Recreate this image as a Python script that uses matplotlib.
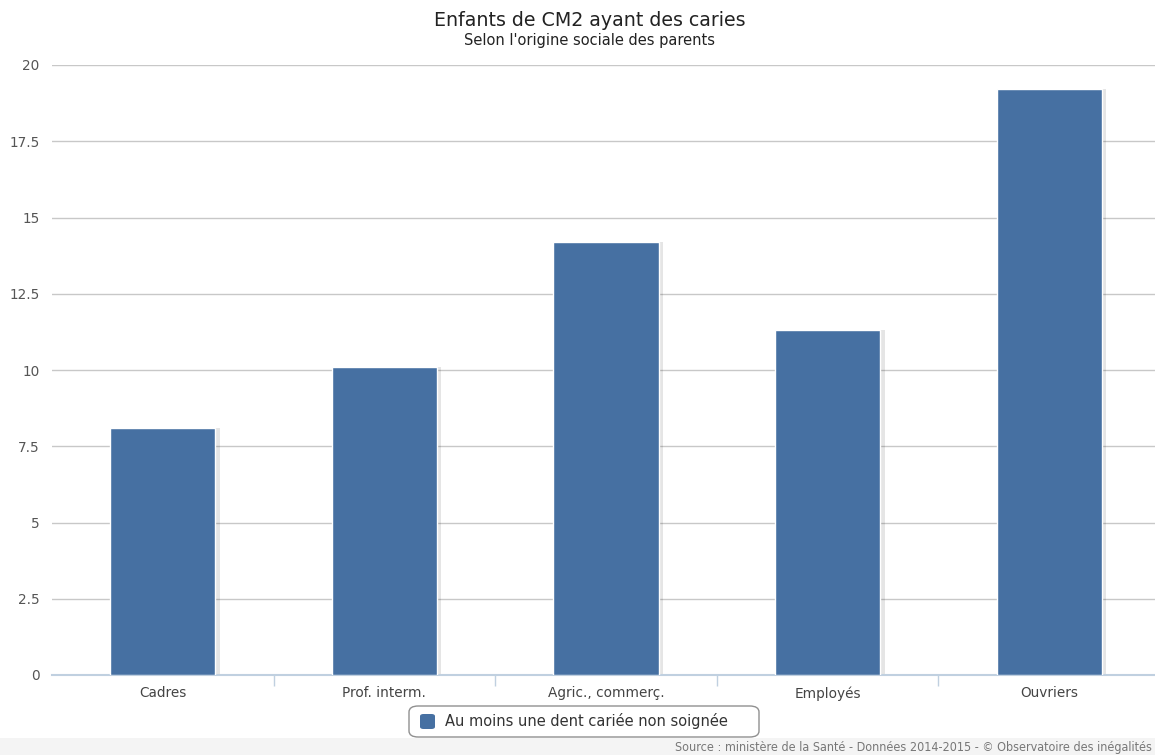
import matplotlib.pyplot as plt
from matplotlib.patches import FancyBboxPatch, Rectangle
import numpy as np

categories = ["Cadres", "Prof. interm.", "Agric., commerç.", "Employés", "Ouvriers"]
values = [8.1, 10.1, 14.2, 11.3, 19.2]
yticks = [0, 2.5, 5, 7.5, 10, 12.5, 15, 17.5, 20]
ytick_labels = ["0", "2.5", "5", "7.5", "10", "12.5", "15", "17.5", "20"]
series_name = "Au moins une dent cariée non soignée"
title = "Enfants de CM2 ayant des caries"
subtitle = "Selon l'origine sociale des parents"
source = "Source : ministère de la Santé - Données 2014-2015 - © Observatoire des inégalités"

bar_color = "#4670A2"
W, H = 1155, 755

fig = plt.figure(figsize=(W / 100, H / 100), dpi=100)

# grey footer band
fig.patches.append(Rectangle((0, 0), 1, 17 / H, transform=fig.transFigure,
                             facecolor="#f4f4f4", edgecolor="none", zorder=0))

ax = fig.add_axes([52 / W, 1 - 675 / H, 1108 / W, 610 / H])

x = np.arange(len(categories))
# soft shadow behind bars
ax.bar(x + 0.012, values, width=0.49, color="#000000", alpha=0.10, zorder=2)
ax.bar(x, values, width=0.475, color=bar_color, edgecolor="white",
       linewidth=1, zorder=3)

ax.set_xlim(-0.5, len(categories) - 0.5)
ax.set_ylim(0, 20)
ax.set_yticks(yticks)
ax.set_yticklabels(ytick_labels)
ax.grid(axis="y", color="#c8c8c8", linewidth=1, zorder=1)
ax.set_axisbelow(True)

ax.set_xticks(x)
ax.set_xticklabels(categories)
ax.set_xticks(np.arange(1, len(categories)) - 0.5, minor=True)
ax.tick_params(axis="x", which="major", length=0, pad=8, labelsize=9.8,
               labelcolor="#444444")
ax.tick_params(axis="x", which="minor", length=8, color="#c0d0e0", width=1)
ax.tick_params(axis="y", length=0, pad=9, labelsize=9.8, labelcolor="#555555")

for side in ["top", "right", "left"]:
    ax.spines[side].set_visible(False)
ax.spines["bottom"].set_color("#c0d0e0")
ax.spines["bottom"].set_linewidth(1.5)

fig.text(590 / W, 1 - 20 / H, title, ha="center", va="center",
         fontsize=13.7, color="#222222")
fig.text(590 / W, 1 - 40 / H, subtitle, ha="center", va="center",
         fontsize=10.5, color="#222222")

# legend box
fig.patches.append(FancyBboxPatch((409 / W, 1 - 737 / H), 350 / W, 31 / H,
                                  boxstyle="round,pad=0,rounding_size=0.008",
                                  transform=fig.transFigure, facecolor="white",
                                  edgecolor="#909090", linewidth=1, zorder=2))
fig.patches.append(FancyBboxPatch((420 / W, 1 - 729 / H), 15 / W, 15 / H,
                                  boxstyle="round,pad=0,rounding_size=0.003",
                                  transform=fig.transFigure, facecolor=bar_color,
                                  edgecolor="none", zorder=3))
fig.text(445 / W, 1 - 721 / H, series_name, ha="left", va="center",
         fontsize=10.5, color="#333333")

fig.text(1 - 3 / W, 1 - 747 / H, source, ha="right", va="center",
         fontsize=9, color="#777777", fontstretch="condensed",
         family=["DejaVu Sans"])

fig.savefig("out.png", dpi=100)
